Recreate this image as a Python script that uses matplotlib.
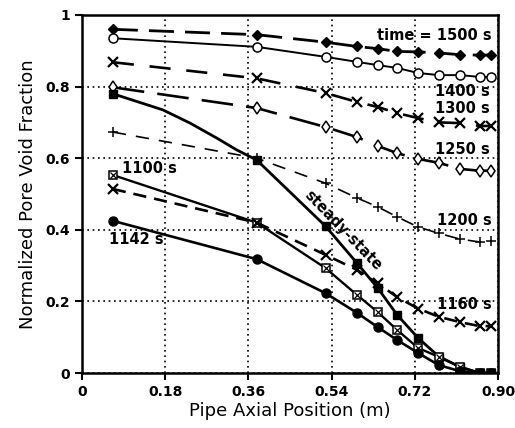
import matplotlib
matplotlib.use('Agg')
import matplotlib.pyplot as plt

# node positions along the pipe (m)
x_nodes = [0.067, 0.378, 0.527, 0.595, 0.640, 0.682, 0.727, 0.772, 0.818, 0.860, 0.884]

t1500 = [0.960, 0.945, 0.924, 0.912, 0.906, 0.898, 0.897, 0.894, 0.889, 0.888, 0.888]
t1400 = [0.935, 0.911, 0.883, 0.869, 0.860, 0.852, 0.838, 0.832, 0.832, 0.827, 0.827]
t1300 = [0.868, 0.823, 0.782, 0.757, 0.743, 0.726, 0.712, 0.700, 0.698, 0.690, 0.690]
t1250 = [0.798, 0.740, 0.687, 0.659, 0.634, 0.614, 0.598, 0.587, 0.570, 0.565, 0.565]
t1200 = [0.673, 0.600, 0.530, 0.489, 0.464, 0.436, 0.408, 0.390, 0.374, 0.366, 0.369]
steady = [0.780, 0.595, 0.410, 0.307, 0.237, 0.162, 0.098, 0.046, 0.017, 0.0, 0.0]
t1100 = [0.553, 0.420, 0.293, 0.218, 0.170, 0.120, 0.070, 0.045, 0.017, 0.0, 0.0]
t1160 = [0.514, 0.420, 0.330, 0.288, 0.250, 0.212, 0.180, 0.157, 0.142, 0.131, 0.131]
t1142 = [0.425, 0.318, 0.223, 0.168, 0.128, 0.092, 0.056, 0.022, 0.005, 0.0, 0.0]

# curved first stretch of the steady-state line
ss_curve_x = [0.067, 0.175, 0.234, 0.292, 0.335, 0.378]
ss_curve_y = [0.780, 0.735, 0.698, 0.656, 0.623, 0.595]

xticks = [0, 0.18, 0.36, 0.54, 0.72, 0.90]
xticklabels = ['0', '0.18', '0.36', '0.54', '0.72', '0.90']
yticks = [0, 0.2, 0.4, 0.6, 0.8, 1.0]
yticklabels = ['0', '0.2', '0.4', '0.6', '0.8', '1']

fig = plt.figure(figsize=(5.15, 4.28), dpi=100)
ax = fig.add_axes([0.159, 0.1285, 0.808, 0.8365])

k = 'black'
ax.plot(x_nodes, t1500, color=k, lw=2.0, dashes=(9, 4), marker='D', ms=5, mfc=k)
ax.plot(x_nodes, t1400, color=k, lw=1.4, marker='o', ms=6.5, mfc='white', mew=1.1)
ax.plot(x_nodes, t1300, color=k, lw=1.9, dashes=(8, 6), marker='x', ms=7, mew=1.6)
ax.plot(x_nodes, t1250, color=k, lw=1.9, dashes=(12, 5), marker='d', ms=6, mfc='white', mew=1.1)
ax.plot(x_nodes, t1200, color=k, lw=1.2, dashes=(8, 6), marker='+', ms=7, mew=1.1)

ax.plot(ss_curve_x, ss_curve_y, color=k, lw=2.0)
ax.plot(x_nodes[1:], steady[1:], color=k, lw=2.0)
ax.plot(x_nodes, steady, ls='none', marker='s', ms=6, color=k)

ax.plot(x_nodes, t1100, color=k, lw=1.7, marker='s', ms=6, mfc='white', mew=1.1)
ax.plot(x_nodes, t1100, ls='none', marker='x', ms=4, color=k, mew=0.9)
ax.plot(x_nodes, t1160, color=k, lw=1.9, dashes=(5, 3), marker='x', ms=7, mew=1.6)
ax.plot(x_nodes, t1142, color=k, lw=1.9, marker='o', ms=6.5, mfc=k)

# curve labels
lab = dict(fontsize=10.5, fontweight='bold', color=k)
ax.text(0.887, 0.944, 'time = 1500 s', ha='right', va='center', **lab)
ax.text(0.883, 0.785, '1400 s', ha='right', va='center', **lab)
ax.text(0.883, 0.740, '1300 s', ha='right', va='center', **lab)
ax.text(0.883, 0.623, '1250 s', ha='right', va='center', **lab)
ax.text(0.887, 0.427, '1200 s', ha='right', va='center', **lab)
ax.text(0.887, 0.190, '1160 s', ha='right', va='center', **lab)
ax.text(0.087, 0.572, '1100 s', ha='left', va='center', **lab)
ax.text(0.058, 0.372, '1142 s', ha='left', va='center', **lab)
ax.text(0.565, 0.397, 'steady-state', ha='center', va='center', rotation=-46, **lab)

ax.set_xlim(0, 0.9)
ax.set_ylim(0, 1)
ax.set_xticks(xticks)
ax.set_xticklabels(xticklabels, fontsize=10, fontweight='bold')
ax.set_yticks(yticks)
ax.set_yticklabels(yticklabels, fontsize=10, fontweight='bold')
ax.tick_params(direction='out', length=5, width=1.5)
ax.grid(True, color=k, ls=(0, (1, 2.2)), lw=1.2)
for s in ax.spines.values():
    s.set_linewidth(1.8)

ax.set_xlabel('Pipe Axial Position (m)', fontsize=13, labelpad=2)
ax.set_ylabel('Normalized Pore Void Fraction', fontsize=13, labelpad=6)

fig.savefig('out.png', dpi=100)
